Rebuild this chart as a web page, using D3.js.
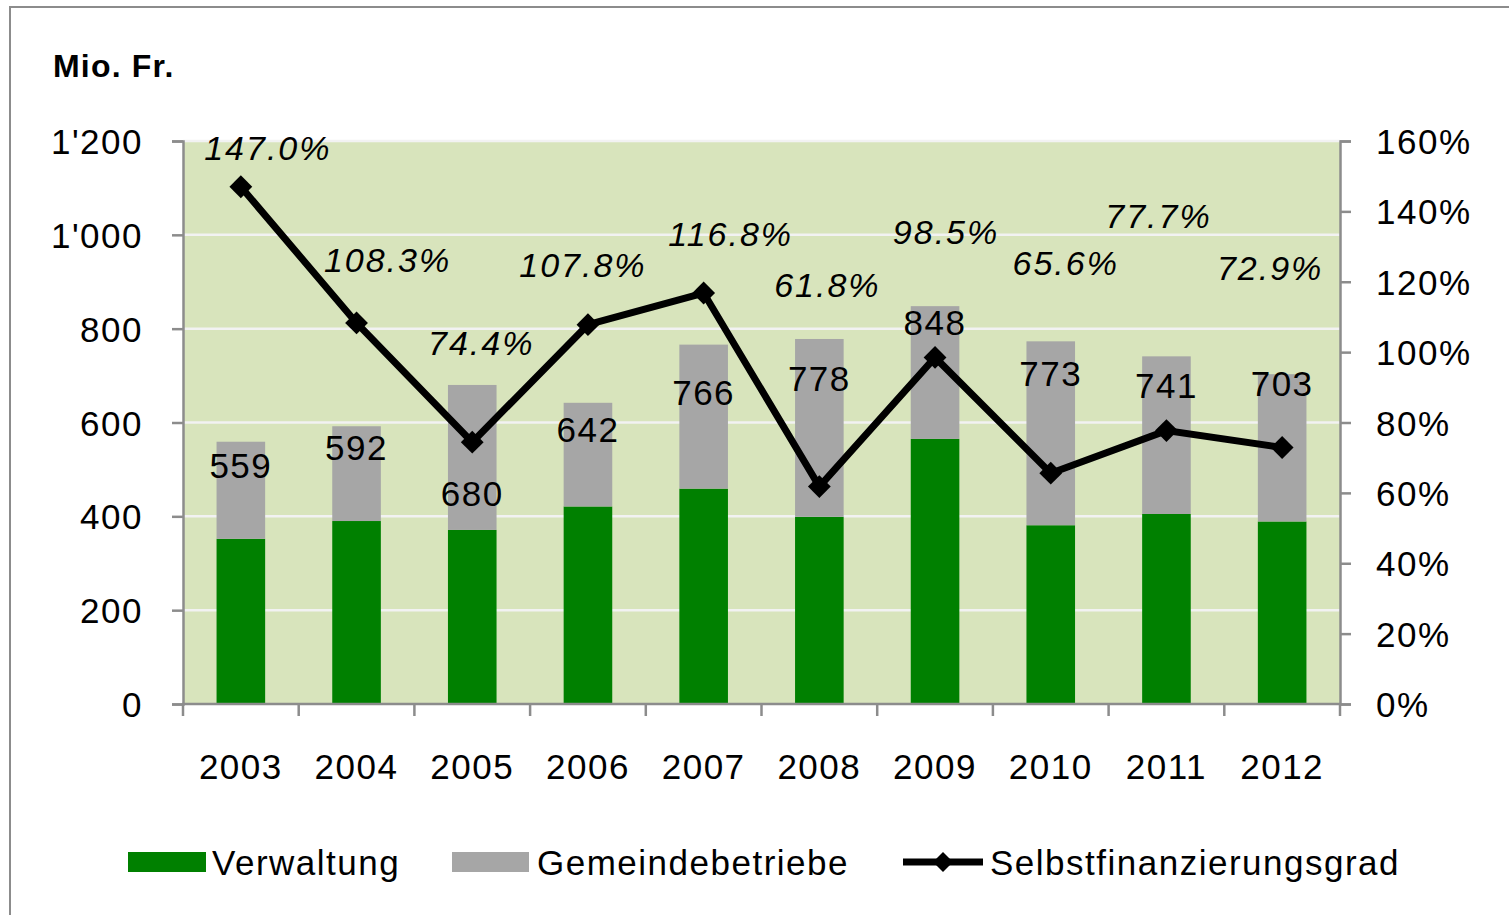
<!DOCTYPE html>
<html>
<head>
<meta charset="utf-8">
<script src="https://cdn.jsdelivr.net/npm/d3@7"></script>
<style>
  body { margin: 0; background: #fff; }
  svg text { font-family: "Liberation Sans", Arial, sans-serif; font-variant-ligatures: none; }
</style>
</head>
<body>
<svg id="chart" width="1509" height="915"></svg>
<script>
const years = ["2003", "2004", "2005", "2006", "2007", "2008", "2009", "2010", "2011", "2012"]
const verwaltung = [352, 390, 371, 421, 459, 399, 565, 381, 405, 389]
const totals = [559, 592, 680, 642, 766, 778, 848, 773, 741, 703]
const gemeindebetriebe = totals.map((t, i) => t - verwaltung[i])
const selbstfin = [147.0, 108.3, 74.4, 107.8, 116.8, 61.8, 98.5, 65.6, 77.7, 72.9]
const leftTicks = [0, 200, 400, 600, 800, 1000, 1200]
const rightTicks = [0, 20, 40, 60, 80, 100, 120, 140, 160]
const seriesNames = ["Verwaltung", "Gemeindebetriebe", "Selbstfinanzierungsgrad"]

// hand placed label offsets (px), as in the original
const totalLabelDy = [24, 21, 108, 27, 48, 39, 16, 32, 29, 9]
const pctLabelDx = [27, 31, 9, -5, 27, 8, 11, 15, -8, -12]
const pctLabelDy = [-39, -63, -99, -60, -59, -202, -126, -210, -215, -180]

const green = "#008000"
const grey = "#a6a6a6"
const axisGrey = "#8c8c8c"
const fontSize = 35
const spacing = 1.5

const svg = d3.select("#chart")
const plotLeft = 183, plotRight = 1340, plotTop = 141, plotBottom = 704

// outer frame
svg.append("rect")
    .attr("x", 10).attr("y", 7)
    .attr("width", 1520).attr("height", 930)
    .attr("fill", "none")
    .attr("stroke", axisGrey)
    .attr("stroke-width", 2)

const x = d3.scaleBand().domain(years).range([plotLeft, plotRight]).paddingInner(0.58).paddingOuter(0.29)
const y = d3.scaleLinear().domain([0, 1200]).range([plotBottom, plotTop])
const y2 = d3.scaleLinear().domain([0, 160]).range([plotBottom, plotTop])
const step = x.step()
const cx = d => x(d) + x.bandwidth() / 2

svg.append("rect")
    .attr("x", plotLeft).attr("y", plotTop)
    .attr("width", plotRight - plotLeft).attr("height", plotBottom - plotTop)
    .attr("fill", "#d8e4bc")

// gridlines
svg.append("g")
    .selectAll("line")
    .data(leftTicks.filter(d => d > 0))
    .enter()
    .append("line")
    .attr("x1", plotLeft).attr("x2", plotRight)
    .attr("y1", d => y(d)).attr("y2", d => y(d))
    .attr("stroke", "#f2f2f2")
    .attr("stroke-width", 2.5)

// stacked bars
svg.append("g")
    .selectAll("rect")
    .data(years)
    .enter()
    .append("rect")
    .attr("x", d => x(d))
    .attr("width", x.bandwidth())
    .attr("y", (d, i) => y(verwaltung[i]))
    .attr("height", (d, i) => y(0) - y(verwaltung[i]))
    .attr("fill", green)

svg.append("g")
    .selectAll("rect")
    .data(years)
    .enter()
    .append("rect")
    .attr("x", d => x(d))
    .attr("width", x.bandwidth())
    .attr("y", (d, i) => y(verwaltung[i] + gemeindebetriebe[i]))
    .attr("height", (d, i) => y(verwaltung[i]) - y(verwaltung[i] + gemeindebetriebe[i]))
    .attr("fill", grey)

// axes
const fmtThousands = d => d >= 1000 ? Math.floor(d / 1000) + "'" + String(d % 1000).padStart(3, "0") : String(d)

const yAxis = svg.append("g")
    .attr("transform", `translate(${plotLeft},0)`)
    .call(d3.axisLeft(y).tickValues(leftTicks).tickSize(11).tickPadding(29).tickFormat(fmtThousands))
const y2Axis = svg.append("g")
    .attr("transform", `translate(${plotRight},0)`)
    .call(d3.axisRight(y2).tickValues(rightTicks).tickSize(11).tickPadding(25).tickFormat(d => d + "%"))

for (const ax of [yAxis, y2Axis]) {
    ax.select(".domain").attr("stroke", axisGrey).attr("stroke-width", 2.5)
    ax.selectAll(".tick line").attr("stroke", axisGrey).attr("stroke-width", 2.5)
    ax.selectAll(".tick text")
        .attr("font-size", fontSize)
        .attr("letter-spacing", spacing)
        .attr("fill", "#000")
        .attr("dy", "0.36em")
}

// x axis: line, boundary ticks, year labels
svg.append("line")
    .attr("x1", plotLeft - 1).attr("x2", plotRight + 1)
    .attr("y1", plotBottom).attr("y2", plotBottom)
    .attr("stroke", axisGrey).attr("stroke-width", 2.5)
svg.append("g")
    .selectAll("line")
    .data(d3.range(years.length + 1))
    .enter()
    .append("line")
    .attr("x1", i => plotLeft + i * step).attr("x2", i => plotLeft + i * step)
    .attr("y1", plotBottom).attr("y2", plotBottom + 12)
    .attr("stroke", axisGrey).attr("stroke-width", 2.5)
svg.append("g")
    .selectAll("text")
    .data(years)
    .enter()
    .append("text")
    .attr("x", d => cx(d))
    .attr("y", 766)
    .attr("dy", "0.36em")
    .attr("text-anchor", "middle")
    .attr("font-size", fontSize)
    .attr("letter-spacing", spacing)
    .text(d => d)

// total labels
svg.append("g")
    .selectAll("text")
    .data(years)
    .enter()
    .append("text")
    .attr("x", d => cx(d))
    .attr("y", (d, i) => y(totals[i]) + totalLabelDy[i])
    .attr("dy", "0.36em")
    .attr("text-anchor", "middle")
    .attr("font-size", fontSize)
    .attr("letter-spacing", spacing)
    .text((d, i) => totals[i])

// line series
const line = d3.line()
    .x(d => cx(d.year))
    .y(d => y2(d.value))
const points = years.map((yr, i) => ({ year: yr, value: selbstfin[i] }))

svg.append("path")
    .datum(points)
    .attr("d", line)
    .attr("fill", "none")
    .attr("stroke", "#000")
    .attr("stroke-width", 7)
    .attr("stroke-linejoin", "miter")

svg.append("g")
    .selectAll("path")
    .data(points)
    .enter()
    .append("path")
    .attr("d", d3.symbol(d3.symbolSquare, 260))
    .attr("transform", d => `translate(${cx(d.year)},${y2(d.value)}) rotate(45)`)
    .attr("fill", "#000")

svg.append("g")
    .selectAll("text")
    .data(points)
    .enter()
    .append("text")
    .attr("x", (d, i) => cx(d.year) + pctLabelDx[i])
    .attr("y", (d, i) => y2(d.value) + pctLabelDy[i])
    .attr("dy", "0.36em")
    .attr("text-anchor", "middle")
    .attr("font-size", 34)
    .attr("font-style", "italic")
    .attr("letter-spacing", 2)
    .text(d => d.value.toFixed(1) + "%")

// unit title
svg.append("text")
    .attr("x", 53).attr("y", 77)
    .attr("font-size", 32)
    .attr("font-weight", "bold")
    .attr("letter-spacing", 1.2)
    .text("Mio. Fr.")

// legend
const legend = svg.append("g")
legend.append("rect").attr("x", 128).attr("y", 852).attr("width", 78).attr("height", 20).attr("fill", green)
legend.append("rect").attr("x", 452).attr("y", 852).attr("width", 77).attr("height", 20).attr("fill", grey)
legend.append("line")
    .attr("x1", 903).attr("x2", 983).attr("y1", 862).attr("y2", 862)
    .attr("stroke", "#000").attr("stroke-width", 7)
legend.append("path")
    .attr("d", d3.symbol(d3.symbolSquare, 200))
    .attr("transform", "translate(943,862) rotate(45)")
    .attr("fill", "#000")

const legendX = [212, 537, 990]
legend.selectAll("text")
    .data(seriesNames)
    .enter()
    .append("text")
    .attr("x", (d, i) => legendX[i])
    .attr("y", 862)
    .attr("dy", "0.36em")
    .attr("font-size", fontSize)
    .attr("letter-spacing", spacing)
    .text(d => d)
</script>
</body>
</html>
